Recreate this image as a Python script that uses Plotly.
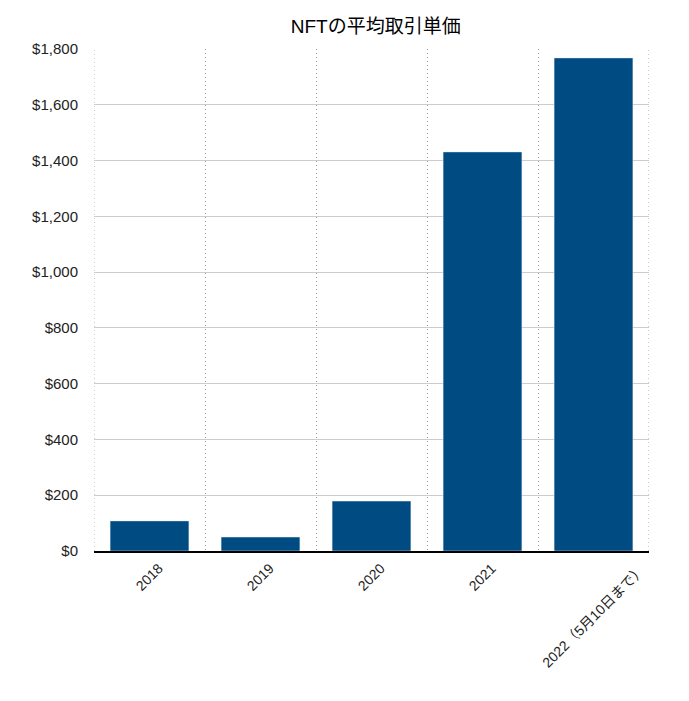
import plotly.graph_objects as go

# Data
years = ["2018", "2019", "2020", "2021", "2022（5月10日まで）"]
avg_price = [108, 50, 179, 1431, 1768]

fig = go.Figure()

fig.add_trace(go.Bar(
    x=years,
    y=avg_price,
    marker_color="#004b82",
    width=0.71,
    hovertemplate="%{x}<br>$%{y:,}<extra></extra>",
))

# dotted lines on the outer edges of the category axis
for edge in (-0.5, len(years) - 0.5):
    fig.add_shape(type="line", xref="x", yref="paper", x0=edge, x1=edge, y0=0, y1=1,
                  line=dict(color="#999999", width=1, dash="1px,3px"), layer="below")

# category labels, rotated about their centre like the original
# (use the category index: "2018" as a string would be read as a number)
for i, yr in enumerate(years):
    fig.add_annotation(x=i, y=0, xref="x", yref="y", text=yr, showarrow=False,
                       textangle=-45, xanchor="center", yanchor="top", yshift=-7,
                       font=dict(size=14, color="#222222"))

fig.update_layout(
    width=681,
    height=693,
    title=dict(text="NFTの平均取引単価", x=0.54, xanchor="center", y=0.973, yanchor="middle",
               font=dict(size=19, color="#000000")),
    font=dict(family="Liberation Sans, Noto Sans CJK JP, sans-serif", size=14, color="#222222"),
    plot_bgcolor="white",
    paper_bgcolor="white",
    margin=dict(l=86, r=40, t=41, b=150),
    showlegend=False,
)

fig.update_xaxes(
    type="category",
    tickson="boundaries",
    showgrid=True,
    gridcolor="#999999",
    griddash="1px,3px",
    gridwidth=1,
    showticklabels=False,
    ticks="",
    showline=True,
    linecolor="#000000",
    linewidth=1.5,
    range=[-0.5, 4.5],
)

fig.update_yaxes(
    range=[0, 1800],
    dtick=200,
    tickprefix="$",
    tickformat=",",
    tickfont=dict(size=15),
    showgrid=True,
    gridcolor="#cccccc",
    gridwidth=1,
    zeroline=False,
    ticks="",
    ticklabelstandoff=15,
)

fig.write_html("out.html")
